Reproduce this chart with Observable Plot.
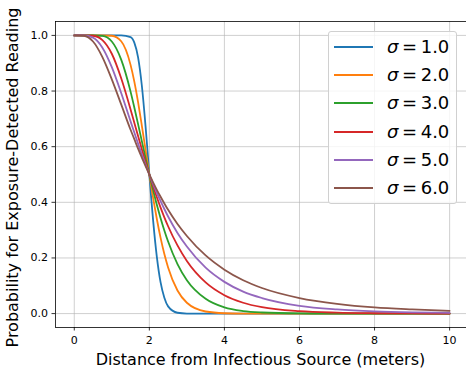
<!DOCTYPE html>
<html>
<head>
<meta charset="utf-8">
<script src="https://cdn.jsdelivr.net/npm/d3@7"></script>
<script src="https://cdn.jsdelivr.net/npm/@observablehq/plot@0.6"></script>
<style>
  html, body { margin: 0; padding: 0; background: #fff; }
  #wrap { position: relative; width: 466px; height: 371px; font-family: "DejaVu Sans", sans-serif; }
  #legend { position: absolute; left: 327.5px; top: 31px; width: 129.5px; height: 173px;
    box-sizing: border-box; border: 1px solid #d0d0d0; border-radius: 3px; background: rgba(255,255,255,0.8); }
  .row { position: absolute; left: 0; height: 28px; width: 100%; }
  .swatch { position: absolute; left: 5px; top: 13px; width: 39px; height: 2px; }
  .lab { position: absolute; left: 58.5px; top: 0; line-height: 28px; font-size: 18px; color: #000; white-space: nowrap; }
</style>
</head>
<body>
<div id="wrap"></div>
<script>
const distance = [0, 0.25, 0.5, 0.75, 1, 1.25, 1.5, 1.6, 1.7, 1.8, 1.9, 1.95, 2, 2.05, 2.1, 2.2, 2.3, 2.4, 2.5, 2.75, 3, 3.5, 4, 4.5, 5, 6, 7, 8, 9, 10];
const sigma1 = [1,1,1,1,1,1,0.994,0.974,0.921,0.820,0.672,0.587,0.5,0.415,0.336,0.204,0.112,0.057,0.026,0.003,0.0002,0,0,0,0,0,0,0,0,0];
const sigma2 = [1,1,1,1,0.9987,0.979,0.894,0.834,0.760,0.676,0.588,0.544,0.5,0.457,0.416,0.340,0.272,0.214,0.166,0.083,0.039,0.0075,0.0013,0.0002,0,0,0,0,0,0];
const sigma3 = [1,1,1,0.998,0.978,0.913,0.798,0.741,0.681,0.620,0.559,0.529,0.5,0.471,0.444,0.391,0.343,0.299,0.259,0.178,0.120,0.053,0.022,0.009,0.004,0.0007,0.0001,0,0,0];
const sigma4 = [1,1,0.9987,0.983,0.934,0.846,0.734,0.686,0.638,0.591,0.544,0.522,0.5,0.479,0.458,0.418,0.381,0.346,0.314,0.245,0.189,0.112,0.066,0.039,0.023,0.0085,0.0033,0.0013,0.0005,0.0002];
const sigma5 = [1,0.9998,0.992,0.956,0.886,0.793,0.691,0.651,0.611,0.573,0.535,0.518,0.5,0.483,0.466,0.434,0.404,0.376,0.349,0.290,0.241,0.165,0.114,0.079,0.056,0.028,0.015,0.008,0.0045,0.003];
const sigma6 = [1,0.9987,0.978,0.922,0.842,0.752,0.661,0.627,0.593,0.561,0.530,0.515,0.5,0.486,0.472,0.445,0.420,0.396,0.373,0.322,0.279,0.209,0.158,0.120,0.092,0.056,0.035,0.022,0.015,0.010];
const sigmaLabels = ["1.0", "2.0", "3.0", "4.0", "5.0", "6.0"];
const colors = ["#1f77b4", "#ff7f0e", "#2ca02c", "#d62728", "#9467bd", "#8c564b"];
const xTicks = [0, 2, 4, 6, 8, 10];
const yTicks = [0, 0.2, 0.4, 0.6, 0.8, 1.0];
const xLabel = "Distance from Infectious Source (meters)";
const yLabel = "Probability for Exposure-Detected Reading";

const series = [sigma1, sigma2, sigma3, sigma4, sigma5, sigma6];
const data = [];
series.forEach((vals, i) => vals.forEach((p, j) => data.push({d: distance[j], p, s: sigmaLabels[i]})));

const xDomain = [-0.5, 10.45];
const yDomain = [-0.05, 1.05];

const chart = Plot.plot({
  width: 466, height: 371,
  marginLeft: 55, marginRight: 0, marginTop: 21, marginBottom: 44,
  style: {fontFamily: "DejaVu Sans, sans-serif", background: "#fff", overflow: "visible"},
  x: {domain: xDomain, label: null},
  y: {domain: yDomain, label: null},
  color: {domain: sigmaLabels, range: colors},
  marks: [
    Plot.ruleX(xTicks, {stroke: "#b0b0b0", strokeWidth: 0.8, strokeOpacity: 0.75}),
    Plot.ruleY(yTicks, {stroke: "#b0b0b0", strokeWidth: 0.8, strokeOpacity: 0.75}),
    Plot.line(data, {x: "d", y: "p", z: "s", stroke: "s", strokeWidth: 1.8, curve: "monotone-x"}),
    Plot.axisX({ticks: xTicks, tickFormat: d => String(d), tickSize: 3.5, tickPadding: 5, fontSize: 11, stroke: "#000", fill: "#000", strokeWidth: 0.8, label: null}),
    Plot.axisY({ticks: yTicks, tickFormat: d3.format(".1f"), tickSize: 3.5, tickPadding: 4, fontSize: 11, stroke: "#000", fill: "#000", strokeWidth: 0.8, label: null}),
    Plot.ruleX([xDomain[0]], {stroke: "#000", strokeWidth: 0.8}),
    Plot.ruleY([yDomain[0], yDomain[1]], {stroke: "#000", strokeWidth: 0.8})
  ]
});

const wrap = document.getElementById("wrap");
wrap.appendChild(chart);

const svg = d3.select(chart);
svg.append("text").text(xLabel)
  .attr("x", 260.5).attr("y", 365)
  .attr("text-anchor", "middle").attr("font-size", 16).attr("fill", "#000")
  .attr("font-family", "DejaVu Sans, sans-serif");
svg.append("text").text(yLabel)
  .attr("transform", "translate(18,177.5) rotate(-90)")
  .attr("text-anchor", "middle").attr("font-size", 16).attr("fill", "#000")
  .attr("font-family", "DejaVu Sans, sans-serif");

const legend = document.createElement("div");
legend.id = "legend";
sigmaLabels.forEach((lab, i) => {
  const row = document.createElement("div");
  row.className = "row";
  row.style.top = Math.round(0.7 + i * 28.33) + "px";
  const sw = document.createElement("div");
  sw.className = "swatch";
  sw.style.background = colors[i];
  const t = document.createElement("div");
  t.className = "lab";
  t.innerHTML = "<i>σ</i>\u2009=\u2009" + lab;
  row.appendChild(sw); row.appendChild(t);
  legend.appendChild(row);
});
wrap.appendChild(legend);
</script>
</body>
</html>
